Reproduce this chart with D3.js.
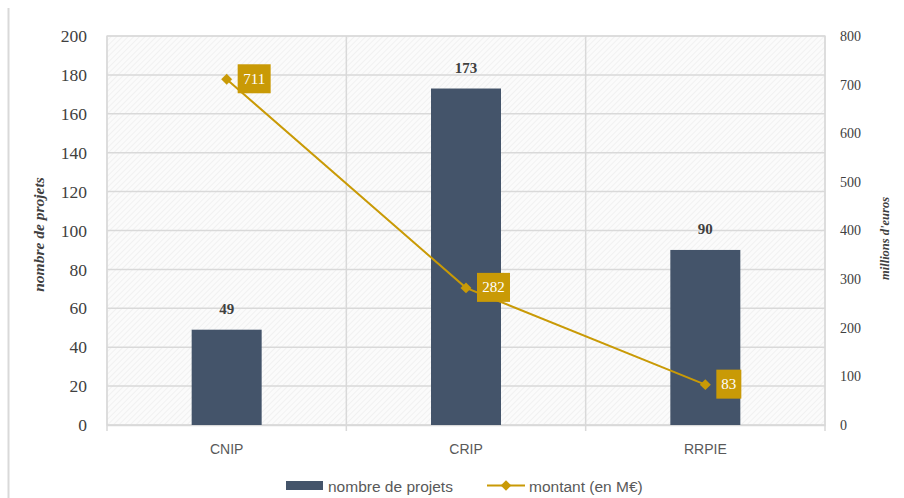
<!DOCTYPE html>
<html><head><meta charset="utf-8">
<script src="https://cdn.jsdelivr.net/npm/d3@7"></script>
<style>html,body{margin:0;padding:0;background:#fff;}svg{display:block;}</style>
</head><body>
<svg id="c" width="904" height="498"></svg>
<script>
const categories = ["CNIP", "CRIP", "RRPIE"];
const projets = [49, 173, 90];
const montants = [711, 282, 83];
const leftTicks = [0, 20, 40, 60, 80, 100, 120, 140, 160, 180, 200];
const rightTicks = [0, 100, 200, 300, 400, 500, 600, 700, 800];
const seriesNames = ["nombre de projets", "montant (en M€)"];
const axisTitles = ["nombre de projets", "millions d'euros"];

const svg = d3.select("#c");
const W = 904, H = 498;
const m = {l: 107, r: 825, t: 36, b: 425};
const barColor = "#44546A", lineColor = "#C99A06", gridColor = "#d9d9d9";
const serif = "'Liberation Serif', 'DejaVu Serif', serif";
const sans = "'Liberation Sans', Arial, sans-serif";

// left frame line
svg.append("line").attr("x1", 8.5).attr("x2", 8.5).attr("y1", 8).attr("y2", H)
  .attr("stroke", "#d9d9d9").attr("stroke-width", 2);

// hatch pattern
const defs = svg.append("defs");
const pat = defs.append("pattern").attr("id", "hatch").attr("patternUnits", "userSpaceOnUse")
  .attr("width", 4).attr("height", 4).attr("patternTransform", "rotate(45)");
pat.append("rect").attr("width", 4).attr("height", 4).attr("fill", "#fbfbfb");
pat.append("line").attr("x1", 0).attr("y1", 0).attr("x2", 0).attr("y2", 4)
  .attr("stroke", "#eeeeee").attr("stroke-width", 1.5);

const x = d3.scaleBand().domain(categories).range([m.l, m.r]).paddingInner(0).paddingOuter(0);
const yL = d3.scaleLinear().domain([0, 200]).range([m.b, m.t]);
const yR = d3.scaleLinear().domain([0, 800]).range([m.b, m.t]);

svg.append("rect").attr("x", m.l).attr("y", m.t).attr("width", m.r - m.l).attr("height", m.b - m.t)
  .attr("fill", "url(#hatch)").attr("stroke", "#e3e3e3").attr("stroke-width", 1.5);

// horizontal gridlines
svg.append("g").selectAll("line").data(leftTicks).join("line")
  .attr("x1", m.l).attr("x2", m.r).attr("y1", d => yL(d)).attr("y2", d => yL(d))
  .attr("stroke", gridColor).attr("stroke-width", 1.5);

// vertical gridlines at category boundaries
const bounds = categories.map(c => x(c)).concat([x(categories[categories.length - 1]) + x.bandwidth()]);
svg.append("g").selectAll("line").data(bounds).join("line")
  .attr("x1", d => d).attr("x2", d => d).attr("y1", m.t).attr("y2", m.b + 6)
  .attr("stroke", gridColor).attr("stroke-width", 1.5);

// left axis
const axL = svg.append("g").attr("transform", `translate(${m.l - 20},0)`)
  .call(d3.axisLeft(yL).tickValues(leftTicks).tickSize(0).tickPadding(0));
axL.select(".domain").remove();
axL.selectAll("text").attr("font-family", serif).attr("font-size", 17.5).attr("fill", "#404040");

// right axis
const axR = svg.append("g").attr("transform", `translate(${m.r + 15},0)`)
  .call(d3.axisRight(yR).tickValues(rightTicks).tickSize(0).tickPadding(0));
axR.select(".domain").remove();
axR.selectAll("text").attr("font-family", serif).attr("font-size", 14).attr("fill", "#404040");

// x axis
const axX = svg.append("g").attr("transform", `translate(0,${m.b})`)
  .call(d3.axisBottom(x).tickSize(0).tickPadding(19));
axX.select(".domain").attr("stroke", gridColor).attr("stroke-width", 1.5);
axX.selectAll("text").attr("font-family", sans).attr("font-size", 14).attr("fill", "#595959");

// axis titles
svg.append("text").attr("transform", `translate(44,${(m.t + m.b) / 2 + 4}) rotate(-90)`)
  .attr("text-anchor", "middle").attr("font-family", serif).attr("font-style", "italic")
  .attr("font-weight", "bold").attr("font-size", 15.5).attr("fill", "#404040").text(axisTitles[0]);
svg.append("text").attr("transform", `translate(889,${(m.t + m.b) / 2 + 8}) rotate(-90)`)
  .attr("text-anchor", "middle").attr("font-family", serif).attr("font-style", "italic")
  .attr("font-weight", "bold").attr("font-size", 12.5).attr("fill", "#404040").text(axisTitles[1]);

// bars
const bw = 70;
svg.append("g").selectAll("rect").data(categories).join("rect")
  .attr("x", c => x(c) + x.bandwidth() / 2 - bw / 2)
  .attr("y", (c, i) => yL(projets[i]))
  .attr("width", bw).attr("height", (c, i) => yL(0) - yL(projets[i]))
  .attr("fill", barColor);

// bar labels
svg.append("g").selectAll("text").data(categories).join("text")
  .attr("x", c => x(c) + x.bandwidth() / 2)
  .attr("y", (c, i) => yL(projets[i]) - 16)
  .attr("text-anchor", "middle").attr("font-family", serif).attr("font-weight", "bold")
  .attr("font-size", 15).attr("fill", "#404040")
  .text((c, i) => projets[i]);

// line
const pts = categories.map((c, i) => [x(c) + x.bandwidth() / 2, yR(montants[i])]);
svg.append("path").attr("d", d3.line()(pts)).attr("fill", "none")
  .attr("stroke", lineColor).attr("stroke-width", 2);
svg.append("g").selectAll("path").data(pts).join("path")
  .attr("transform", d => `translate(${d[0]},${d[1]}) rotate(45)`)
  .attr("d", d3.symbol().type(d3.symbolSquare).size(60)).attr("fill", lineColor);

// line labels
const lab = svg.append("g").selectAll("g").data(pts).join("g")
  .attr("transform", d => `translate(${d[0] + 11},${d[1] - 15})`);
lab.append("rect").attr("width", (d, i) => String(montants[i]).length * 8 + 9).attr("height", 29)
  .attr("fill", lineColor);
lab.append("text").attr("x", (d, i) => (String(montants[i]).length * 8 + 9) / 2).attr("y", 19.5)
  .attr("text-anchor", "middle").attr("font-family", serif).attr("font-size", 15)
  .attr("fill", "#fff").text((d, i) => montants[i]);

// legend
const lg = svg.append("g");
lg.append("rect").attr("x", 286).attr("y", 481).attr("width", 37).attr("height", 9).attr("fill", barColor);
lg.append("text").attr("x", 328).attr("y", 492).attr("font-family", sans).attr("font-size", 15.5)
  .attr("fill", "#595959").text(seriesNames[0]);
lg.append("line").attr("x1", 487).attr("x2", 525).attr("y1", 485.5).attr("y2", 485.5)
  .attr("stroke", lineColor).attr("stroke-width", 2);
lg.append("path").attr("transform", "translate(506,485.5) rotate(45)")
  .attr("d", d3.symbol().type(d3.symbolSquare).size(55)).attr("fill", lineColor);
lg.append("text").attr("x", 529).attr("y", 492).attr("font-family", sans).attr("font-size", 15.5)
  .attr("fill", "#595959").text(seriesNames[1]);
</script>
</body></html>
